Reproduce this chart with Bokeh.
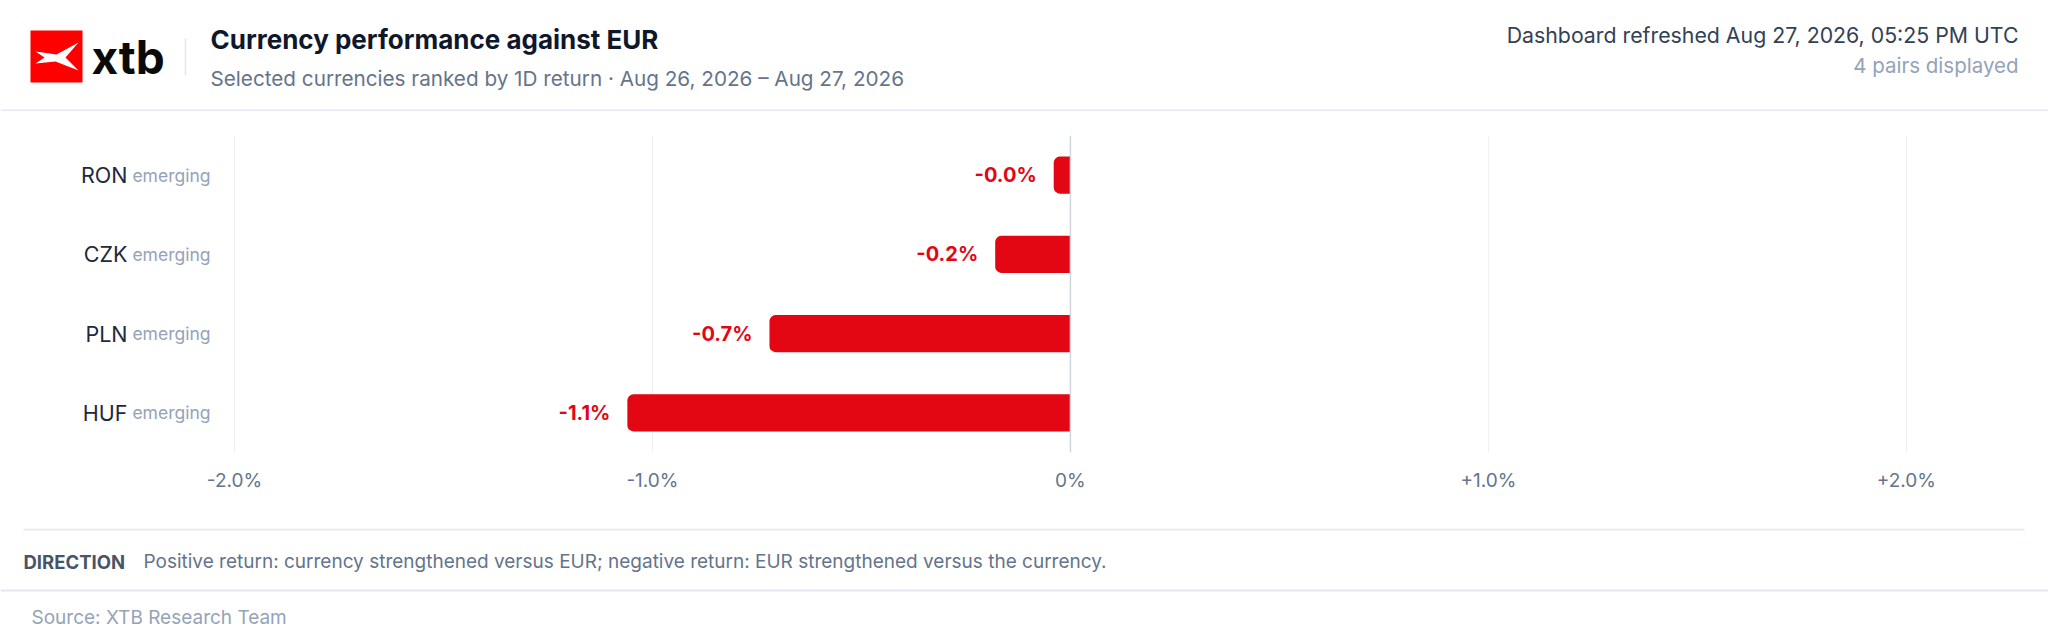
from bokeh.plotting import figure
from bokeh.models import Range1d, FixedTicker, Span, ColumnDataSource, LinearAxis
from bokeh.layouts import column
from bokeh.embed import file_html
from bokeh.resources import INLINE
from bokeh.core.properties import value

# ---------------- data ----------------
categories = ["RON", "CZK", "PLN", "HUF"]
groups = ["emerging", "emerging", "emerging", "emerging"]
returns = [-0.04, -0.18, -0.72, -1.06]          # 1D return, %
x_ticks = [-2.0, -1.0, 0.0, 1.0, 2.0]

TITLE = "Currency performance against EUR"
SUBTITLE = "Selected currencies ranked by 1D return · Aug 26, 2026 – Aug 27, 2026"
REFRESHED = "Dashboard refreshed Aug 27, 2026, 05:25 PM UTC"
PAIRS = f"{len(categories)} pairs displayed"
NOTE_KEY = "DIRECTION"
NOTE = ("Positive return: currency strengthened versus EUR; "
        "negative return: EUR strengthened versus the currency.")
SOURCE = "Source: XTB Research Team"

# ---------------- style ----------------
FONT = "Inter"
RED = "#e30613"
W = 2048
HDR_H, CHART_H, FTR_H = 111, 417, 116
X_START, X_END = -2.019, 2.249


def tick_label(t):
    return "0%" if t == 0 else f"{t:+.1f}%"


def canvas_fig(h):
    f = figure(width=W, height=h, x_range=Range1d(0, W), y_range=Range1d(h, 0),
               x_axis_type=None, y_axis_type=None, toolbar_location=None,
               output_backend="svg", min_border=0, outline_line_color=None,
               frame_align=False)
    f.background_fill_color = "white"
    f.border_fill_color = "white"
    return f


def txt(f, x, y, s, size, color, bold=False, align="left"):
    f.text(x=[x], y=[y], text=[s], text_font=value(FONT), text_font_size=size,
           text_font_style="bold" if bold else "normal", text_color=color,
           text_align=align, text_baseline="middle")


# ---------------- header ----------------
hdr = canvas_fig(HDR_H)
hdr.quad(left=30, right=82, top=30, bottom=82, fill_color="#ff0000", line_color=None)
hdr.patch(x=[35, 56, 78, 65, 78, 55, 35, 44],
          y=[51, 54, 42, 57, 70, 61, 63, 57],
          fill_color="white", line_color=None)
txt(hdr, 91, 56, "xtb", "46px", "#0a0a0a", bold=True)
hdr.segment(x0=[185], y0=[38], x1=[185], y1=[75], line_color="#e2e8f0", line_width=1.5)
txt(hdr, 210, 39, TITLE, "26px", "#0f172a", bold=True)
txt(hdr, 210, 78, SUBTITLE, "20.7px", "#64748b")
txt(hdr, 2018, 34, REFRESHED, "21.3px", "#334155", align="right")
txt(hdr, 2018, 65, PAIRS, "20.5px", "#94a3b8", align="right")
hdr.segment(x0=[0], y0=[110], x1=[W], y1=[110], line_color="#e2e8f0", line_width=2)

# ---------------- chart ----------------
ypos = list(range(len(categories)))[::-1]
src = ColumnDataSource(dict(
    y=ypos, value=returns, label=[f"{v:+.1f}%" for v in returns],
))

p = figure(width=W, height=CHART_H, x_range=Range1d(X_START, X_END),
           y_range=Range1d(-0.5, len(categories) - 0.5),
           toolbar_location=None, output_backend="svg", frame_align=False,
           min_border_left=226, min_border_right=38,
           min_border_top=24, min_border_bottom=76)
p.outline_line_color = None
p.background_fill_color = "white"
p.border_fill_color = "white"

p.hbar(y="y", left="value", right=0, height=0.467, source=src,
       fill_color=RED, line_color=None, border_radius=(6, 0, 0, 6))
p.text(x="value", y="y", text="label", source=src, x_offset=-17,
       text_align="right", text_baseline="middle", text_font=value(FONT),
       text_font_size="20px", text_font_style="bold", text_color=RED)

p.add_layout(Span(location=0, dimension="height", line_color="#cfd5dd", line_width=1.5))

p.xaxis.ticker = FixedTicker(ticks=x_ticks)
p.xaxis.major_label_overrides = {t: tick_label(t) for t in x_ticks}
p.xaxis.axis_line_color = None
p.xaxis.major_tick_line_color = None
p.xaxis.minor_tick_line_color = None
p.xaxis.major_tick_out = 0
p.xaxis.major_label_standoff = 16
p.xaxis.major_label_text_font = FONT
p.xaxis.major_label_text_font_size = "19px"
p.xaxis.major_label_text_color = "#64748b"

# inner left axis: group ("emerging")
p.yaxis.ticker = FixedTicker(ticks=ypos)
p.yaxis.major_label_overrides = {y: g for y, g in zip(ypos, groups)}
p.yaxis.axis_line_color = None
p.yaxis.major_tick_line_color = None
p.yaxis.minor_tick_line_color = None
p.yaxis.major_tick_out = 0
p.yaxis.major_label_standoff = 16
p.yaxis.major_label_text_font = FONT
p.yaxis.major_label_text_font_size = "17.5px"
p.yaxis.major_label_text_color = "#94a3b8"

# outer left axis: currency code
code_axis = LinearAxis(ticker=FixedTicker(ticks=ypos),
                       major_label_overrides={y: c for y, c in zip(ypos, categories)},
                       axis_line_color=None, major_tick_line_color=None,
                       minor_tick_line_color=None, major_tick_out=0,
                       major_label_standoff=2, major_label_text_font=FONT,
                       major_label_text_font_size="21.5px",
                       major_label_text_color="#1e293b")
p.add_layout(code_axis, "left")

p.xgrid.ticker = FixedTicker(ticks=x_ticks)
p.xgrid.grid_line_color = "#eef0f3"
p.xgrid.grid_line_width = 1
p.ygrid.visible = False

# ---------------- footer ----------------
ftr = canvas_fig(FTR_H)
ftr.segment(x0=[23], y0=[1], x1=[2024], y1=[1], line_color="#e2e8f0", line_width=2)
txt(ftr, 23, 33, NOTE_KEY, "18.5px", "#475569", bold=True)
txt(ftr, 143, 33, NOTE, "19px", "#64748b")
ftr.segment(x0=[0], y0=[62], x1=[W], y1=[62], line_color="#e2e8f0", line_width=2)
txt(ftr, 31, 89, SOURCE, "19px", "#94a3b8")

layout = column(hdr, p, ftr, spacing=0)
open("out.html", "w").write(file_html(layout, INLINE))
